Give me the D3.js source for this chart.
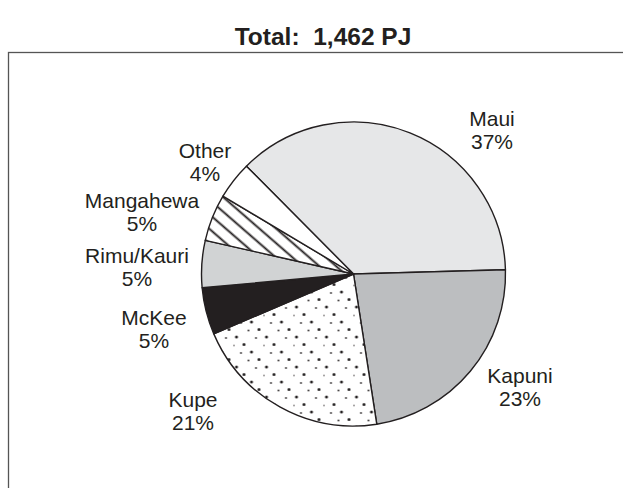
<!DOCTYPE html>
<html>
<head>
<meta charset="utf-8">
<script src="https://cdn.jsdelivr.net/npm/d3@7"></script>
<style>
    body { margin: 0; background: #ffffff; }
    svg { display: block; }
</style>
</head>
<body>
<div id="canvas"></div>
<script>
"use strict"

/* canvas size, same as the picture */
let svgWidth = 623;
let svgHeight = 488;

/* the gas fields, in the order they go round the pie (clockwise from Maui) */
let fields = ["Maui", "Kapuni", "Kupe", "McKee", "Rimu/Kauri", "Mangahewa", "Other"];
let shares = [37, 23, 21, 5, 5, 5, 4]; //percent of total
let fills = ["#e6e7e8", "#bcbec0", "url(#dots)", "#231f20", "#d1d3d4", "url(#hatch)", "#ffffff"];
let titleText = "Total:  1,462 PJ";

/* where each label sits (center x, first baseline) */
let labelSpots = [[492, 126], [520, 383], [193, 407], [154, 325], [137, 263], [142, 208], [205, 158]];

let cx = 353.5;
let cy = 274;
let radius = 152;
let ink = "#231f20";

let svg = d3.select("#canvas")
    .append("svg")
    .attr("width", svgWidth)
    .attr("height", svgHeight);

let defs = svg.append("defs");

/* dotted fill for Kupe: big dots on a slanted grid + small dots offset from them */
let dots = defs.append("pattern")
    .attr("id", "dots")
    .attr("patternUnits", "userSpaceOnUse")
    .attr("width", 30)
    .attr("height", 30);
dots.append("rect").attr("width", 30).attr("height", 30).attr("fill", "#ffffff");
for (let k = 0; k < 4; k++) {
    dots.append("circle")
        .attr("cx", 7.5 * k + 3)
        .attr("cy", 7.5 * k + 3)
        .attr("r", 1.5)
        .attr("fill", ink);
    dots.append("circle")
        .attr("cx", (7.5 * k + 15) % 30)
        .attr("cy", (7.5 * k + 26.5) % 30)
        .attr("r", 0.9)
        .attr("fill", ink);
}

/* diagonal hatch for Mangahewa */
let hatch = defs.append("pattern")
    .attr("id", "hatch")
    .attr("patternUnits", "userSpaceOnUse")
    .attr("width", 11)
    .attr("height", 11)
    .attr("patternTransform", "rotate(41)");
hatch.append("rect").attr("width", 11).attr("height", 11).attr("fill", "#ffffff");
hatch.append("line")
    .attr("x1", 0).attr("y1", 5.5)
    .attr("x2", 11).attr("y2", 5.5)
    .attr("stroke", ink)
    .attr("stroke-width", 1.9);

/* title */
svg.append("text")
    .attr("x", 323)
    .attr("y", 45)
    .attr("text-anchor", "middle")
    .attr("font-family", "Liberation Sans, Arial, sans-serif")
    .attr("font-weight", "bold")
    .attr("font-size", 24.5)
    .attr("fill", ink)
    .attr("xml:space", "preserve")
    .style("white-space", "pre")
    .text(titleText);

/* frame, only the top and left edges show inside the picture */
svg.append("rect")
    .attr("x", 8.5)
    .attr("y", 52.5)
    .attr("width", svgWidth + 20)
    .attr("height", svgHeight + 20)
    .attr("fill", "none")
    .attr("stroke", "#555555")
    .attr("stroke-width", 1.3);

let startAngle = -44.8 * Math.PI / 180;

let pie = d3.pie()
    .sort(null)
    .startAngle(startAngle)
    .endAngle(startAngle + 2 * Math.PI);

let arc = d3.arc()
    .innerRadius(0)
    .outerRadius(radius);

let slices = svg.append("g")
    .attr("transform", "translate(" + cx + "," + cy + ")")
    .selectAll("path")
    .data(pie(shares))
    .join("path")
    .attr("d", arc)
    .attr("fill", function (d, i) {
        return fills[i];
    })
    .attr("stroke", ink)
    .attr("stroke-width", 1.4)
    .attr("stroke-linejoin", "round");

/* two line labels: name then percent */
let labels = svg.append("g")
    .selectAll("text")
    .data(fields)
    .join("text")
    .attr("text-anchor", "middle")
    .attr("font-family", "Liberation Sans, Arial, sans-serif")
    .attr("font-size", 21)
    .attr("fill", ink);

labels.append("tspan")
    .attr("x", function (d, i) { return labelSpots[i][0]; })
    .attr("y", function (d, i) { return labelSpots[i][1]; })
    .text(function (d) { return d; });

labels.append("tspan")
    .attr("x", function (d, i) { return labelSpots[i][0]; })
    .attr("y", function (d, i) { return labelSpots[i][1] + 23; })
    .text(function (d, i) { return shares[i] + "%"; });
</script>
</body>
</html>
